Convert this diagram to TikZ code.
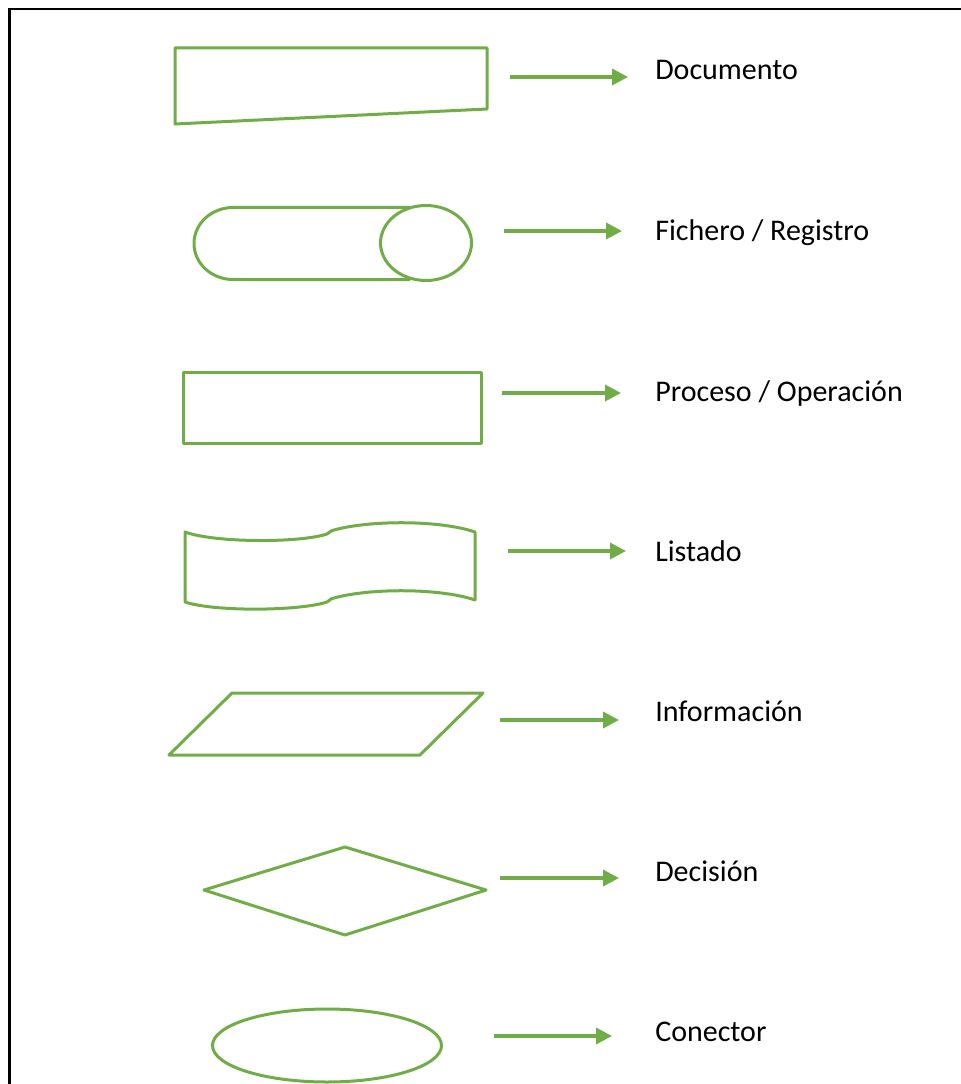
\documentclass[tikz,border=0pt]{standalone}
\usepackage{fontspec}
\setmainfont{Carlito}
\usetikzlibrary{arrows.meta}
\definecolor{symgreen}{HTML}{70AD47}
\begin{document}
\begin{tikzpicture}[x=0.75pt,y=-0.75pt,
  symbol/.style={draw=symgreen,line width=2.25pt,line join=round},
  pointer/.style={draw=symgreen,line width=2.6pt,-{Triangle[length=12pt,width=12pt]}},
  label/.style={anchor=base west,inner sep=0pt,font=\fontsize{22.5}{27}\selectfont}]
\useasboundingbox (0,0) rectangle (960,1084);
% frame
\draw[line width=2.2pt] (9.5,1100) -- (9.5,9) -- (980,9);

% document
\draw[symbol] (175,48) -- (487,48) -- (487,109) -- (175,124) -- cycle;
% file / record
\draw[symbol] (410,207.5) -- (233,207.5)
  .. controls (211.5,207.5) and (194,223.6) .. (194,243.5)
  .. controls (194,263.4) and (211.5,279.5) .. (233,279.5) -- (410,279.5);
\draw[symbol] (426,243) ellipse [x radius=45.5, y radius=37.5];
% process
\draw[symbol] (183,372) rectangle (481,443);
% listing
\draw[symbol] (185,532)
  .. controls (215,543) and (300,543) .. (327,534)
  .. controls (330,533) and (329,531) .. (334,530)
  .. controls (370,520) and (440,520) .. (475,532)
  -- (475,600)
  .. controls (440,588) and (370,588) .. (334,598)
  .. controls (329,599) and (330,601) .. (327,602)
  .. controls (300,611) and (215,612) .. (185,602) -- cycle;
% data
\draw[symbol] (232,693) -- (483,693) -- (420,755) -- (169,755) -- cycle;
% decision
\draw[symbol] (204,890) -- (345,847) -- (486,890) -- (345,935) -- cycle;
% connector
\draw[symbol] (327,1045.5) ellipse [x radius=114.5, y radius=36.5];

% labels
\node[label] (t1) at (655,80) {Documento};
\node[label] (t2) at (655,241) {Fichero / Registro};
\node[label] (t3) at (655,401) {Proceso / Operación};
\node[label] (t4) at (655,561) {Listado};
\node[label] (t5) at (655,721) {Información};
\node[label] (t6) at (655,881) {Decisión};
\node[label] (t7) at (655,1041) {Conector};

% arrows
\coordinate (a1) at (510,77);   \coordinate (b1) at (628,77);
\coordinate (a2) at (504,231);  \coordinate (b2) at (622,231);
\coordinate (a3) at (502,393);  \coordinate (b3) at (621,393);
\coordinate (a4) at (508,551);  \coordinate (b4) at (626,551);
\coordinate (a5) at (500,720);  \coordinate (b5) at (619,720);
\coordinate (a6) at (500,878);  \coordinate (b6) at (619,878);
\coordinate (a7) at (494,1036); \coordinate (b7) at (612,1036);
\foreach \i in {1,...,7} \draw[pointer] (a\i) -- (b\i);
\end{tikzpicture}
\end{document}
